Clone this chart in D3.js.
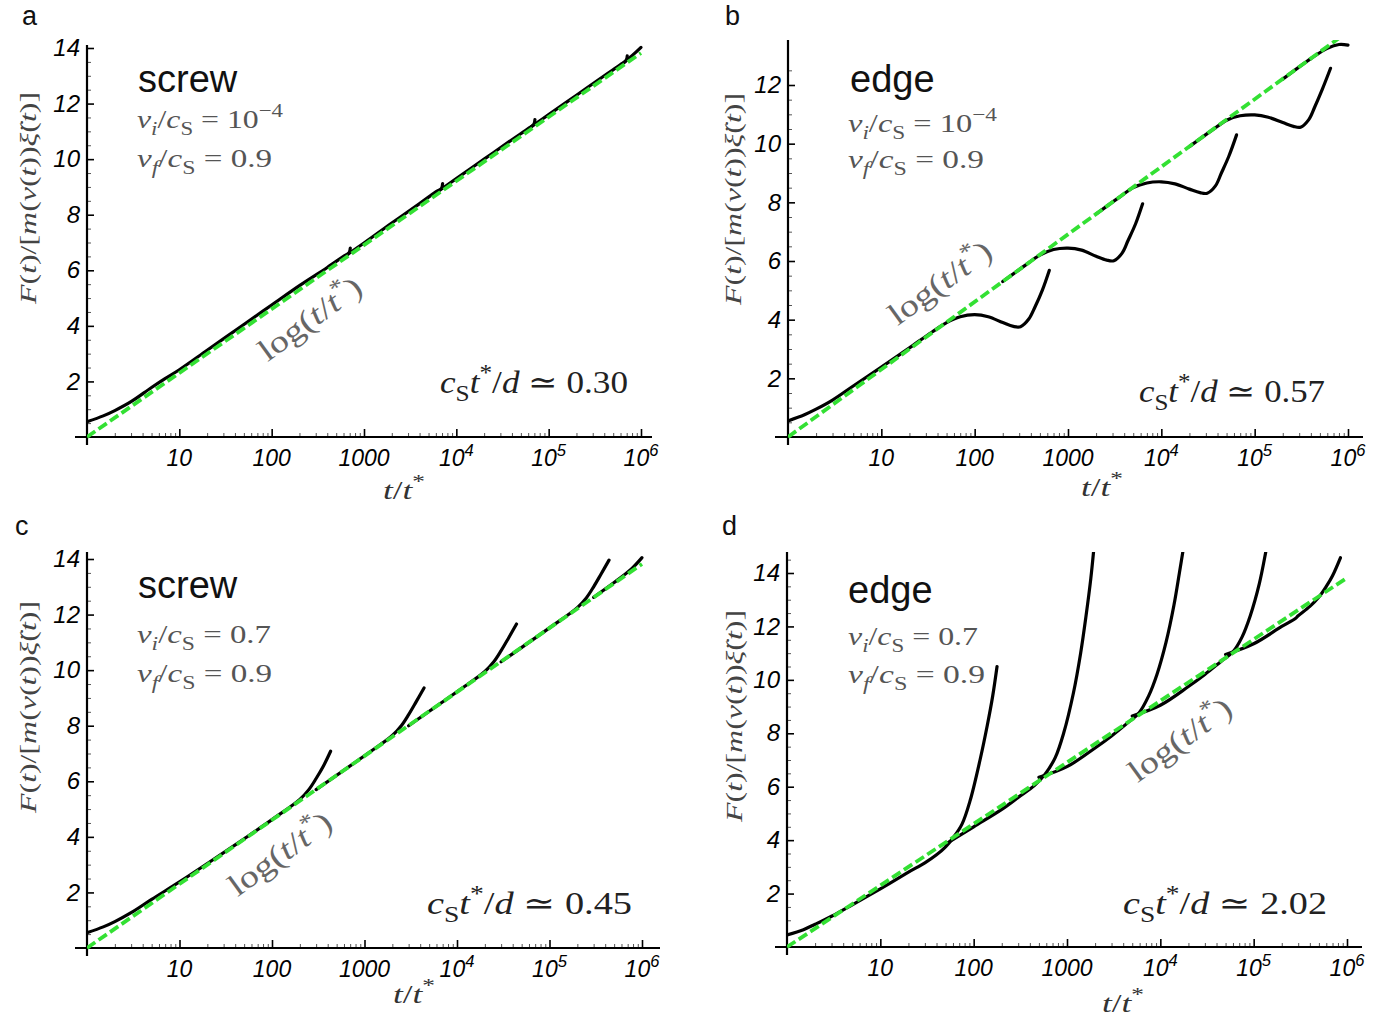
<!DOCTYPE html>
<html><head><meta charset="utf-8">
<script src="https://cdn.jsdelivr.net/npm/d3@7"></script>
<style>body{margin:0;background:#fff}</style>
</head><body>
<svg id="chart" width="1395" height="1020"></svg>
<script>
// ---------------- DATA ----------------
const xTickValues = [10, 100, 1000, 1e4, 1e5, 1e6];
const xTickBase = ["10", "100", "1000", "10", "10", "10"];
const xTickExp = ["", "", "", "4", "5", "6"];
const yTicksA = [2, 4, 6, 8, 10, 12, 14];
const yTicksB = [2, 4, 6, 8, 10, 12];
const yTicksC = [2, 4, 6, 8, 10, 12, 14];
const yTicksD = [2, 4, 6, 8, 10, 12, 14];

const panelLetters = ["a", "b", "c", "d"];
const dislocationType = ["screw", "edge", "screw", "edge"];
const viValues = ["10", "10", "0.7", "0.7"];
const viExponent = ["−4", "−4", "", ""];
const vfValues = ["0.9", "0.9", "0.9", "0.9"];
const ratioValues = ["0.30", "0.57", "0.45", "2.02"];

// reference line log(t/t*)
const refLine = [[1, 0], [1e6, 13.82]];

// panel a: screw, vi=1e-4
const curvesA = [
  [[1,0.55],[1.5,0.76],[2,0.95],[3,1.27],[5,1.78],[7,2.1],[10,2.42],[20,3.12],[50,4.05],[100,4.75],[200,5.45],[400,6.1],[600,6.5],[690,6.63],[710,6.8]],
  [[650,6.55],[1000,6.98],[2000,7.7],[4000,8.4],[6000,8.82],[6900,8.95],[7100,9.12]],
  [[6500,8.86],[1e4,9.3],[2e4,10.0],[4e4,10.7],[6e4,11.1],[6.9e4,11.25],[7.1e4,11.42]],
  [[6.5e4,11.17],[1e5,11.6],[2e5,12.3],[4e5,13.0],[6e5,13.4],[6.9e5,13.55],[7.1e5,13.72]],
  [[6.5e5,13.47],[8e5,13.72],[1e6,14.02]]
];

// panel b: edge, vi=1e-4
const curvesB = [
  [[1,0.55],[1.5,0.76],[2,0.95],[3,1.26],[5,1.74],[10,2.38],[20,3.04],[35,3.58],[50,3.9],[70,4.1],[100,4.17],[140,4.1],[200,3.9],[260,3.77],[310,3.76],[380,4.02],[444,4.44],[530,5.0],[630,5.68]],
  [[200,5.3],[350,5.86],[500,6.2],[700,6.39],[1000,6.44],[1400,6.37],[2000,6.16],[2600,6.03],[3100,6.01],[3800,6.27],[4400,6.7],[5300,7.27],[6300,7.95]],
  [[2000,7.6],[3500,8.16],[5000,8.5],[7000,8.66],[1e4,8.7],[1.4e4,8.63],[2e4,8.45],[2.6e4,8.33],[3.1e4,8.31],[3.8e4,8.56],[4.4e4,9.0],[5.3e4,9.58],[6.4e4,10.3]],
  [[2e4,9.9],[3.5e4,10.46],[5e4,10.8],[7e4,10.95],[1e5,10.98],[1.4e5,10.9],[2e5,10.72],[2.6e5,10.59],[3.1e5,10.56],[3.8e5,10.82],[4.4e5,11.25],[5.3e5,11.85],[6.5e5,12.57]],
  [[2e5,12.2],[4e5,12.9],[6e5,13.25],[8e5,13.38],[1e6,13.36]]
];

// panel c: screw, vi=0.7
const curvesC = [
  [[1,0.55],[1.5,0.76],[2,0.95],[3,1.27],[5,1.75],[10,2.38],[20,3.04],[50,3.93],[100,4.62],[200,5.35],[250,5.7],[300,6.1],[360,6.55],[430,7.08]],
  [[300,5.7],[1000,6.92],[2000,7.65],[2500,8.0],[3000,8.4],[3600,8.85],[4400,9.36]],
  [[3000,8.0],[1e4,9.22],[2e4,9.95],[2.5e4,10.3],[3e4,10.7],[3.6e4,11.15],[4.4e4,11.66]],
  [[3e4,10.3],[1e5,11.52],[2e5,12.25],[2.5e5,12.6],[3e5,13.0],[3.6e5,13.45],[4.4e5,13.96]],
  [[3e5,12.62],[6e5,13.35],[8e5,13.7],[1e6,14.05]]
];

// panel d: edge, vi=0.7
const curvesD = [
  [[1,0.45],[1.5,0.65],[2,0.85],[3,1.15],[5,1.58],[10,2.18],[20,2.8],[30,3.15],[40,3.45],[50,3.75],[60,4.08],[75,4.6],[92,5.5],[117,7.0],[140,8.3],[160,9.4],[178,10.5]],
  [[50,3.85],[100,4.5],[200,5.15],[300,5.6],[450,6.05],[585,6.48],[750,7.1],[920,8.0],[1170,9.5],[1400,11.0],[1600,12.4],[1800,13.8],[1950,15.0]],
  [[500,6.35],[1000,6.75],[2000,7.45],[3000,7.9],[4500,8.4],[5900,8.76],[7500,9.4],[9200,10.2],[1.15e4,11.4],[1.4e4,12.8],[1.6e4,14.0],[1.8e4,15.1]],
  [[5000,8.65],[1e4,9.05],[2e4,9.75],[3e4,10.2],[4.5e4,10.7],[6e4,11.05],[7.5e4,11.6],[9.2e4,12.4],[1.15e5,13.6],[1.35e5,14.8],[1.45e5,15.4]],
  [[5e4,10.95],[1e5,11.35],[2e5,12.0],[2.8e5,12.3],[3e5,12.4],[4e5,12.75],[5e5,13.1],[6e5,13.5],[7e5,13.9],[8.5e5,14.57]]
];

// ---------------- LAYOUT ----------------
const layouts = [
  {xr:[87,641], yd:14, yr:[437,48], axX:[75,652], axY:[445,45], yTicks:yTicksA, curves:curvesA,
   letter:[22,25], type:[138,92], vi:[137,128,146], vf:[137,167,135], ratio:[440,393,188],
   logc:[316,317], xlab:[404,499], ylab:[36,198]},
  {xr:[788,1348], yd:12, yr:[437,85], axX:[775,1363], axY:[445,40], yTicks:yTicksB, curves:curvesB,
   letter:[725,25], type:[850,92], vi:[848,132,149], vf:[848,168,136], ratio:[1139,402,186],
   logc:[946,281], xlab:[1102,496], ylab:[741,199]},
  {xr:[87,642], yd:14, yr:[948,559], axX:[75,660], axY:[956,552], yTicks:yTicksC, curves:curvesC,
   letter:[15,535], type:[138,598], vi:[137,643,134], vf:[137,682,135], ratio:[427,914,205],
   logc:[286,852], xlab:[414,1003], ylab:[36,707]},
  {xr:[787,1347], yd:14, yr:[947,573], axX:[775,1362], axY:[955,552], yTicks:yTicksD, curves:curvesD,
   letter:[722,535], type:[848,603], vi:[848,645,130], vf:[848,683,137], ratio:[1123,914,204],
   logc:[1186,738], xlab:[1123,1012], ylab:[742,716]}
];

const SERIF = "'Liberation Serif','DejaVu Serif',serif";
const SANS = "'Liberation Sans',Arial,sans-serif";
const svg = d3.select("#chart");

function mtext(parent, x, y, parts, opt) {
  const t = parent.append("text").attr("x", x).attr("y", y)
    .attr("font-family", opt.family || SERIF).attr("font-size", opt.size)
    .attr("fill", opt.color || "#000");
  if (opt.anchor) t.attr("text-anchor", opt.anchor);
  if (opt.transform) t.attr("transform", opt.transform);
  let cur = 0;
  parts.forEach(p => {
    const s = typeof p === "string" ? {t: p} : p;
    if (!s.t) return;
    const ts = t.append("tspan").text(s.t);
    let target = 0, fs = opt.size;
    if (s.sub) { target = opt.size * 0.25; fs = opt.size * 0.72; }
    if (s.sup) { target = -opt.size * 0.42; fs = opt.size * 0.72; }
    if (target !== cur) ts.attr("dy", target - cur);
    cur = target;
    ts.attr("font-size", fs);
    if (s.it) ts.attr("font-style", "italic");
  });
  if (opt.len) t.attr("textLength", opt.len).attr("lengthAdjust", "spacingAndGlyphs");
  return t;
}

layouts.forEach((L, i) => {
  const g = svg.append("g");
  const x = d3.scaleLog().domain([1, 1e6]).range(L.xr);
  const y = d3.scaleLinear().domain([0, L.yd]).range(L.yr);

  // minor ticks
  const minorX = [];
  for (let d = 0; d < 6; d++) for (let m = 2; m <= 9; m++) minorX.push(m * Math.pow(10, d));
  g.append("g").attr("transform", `translate(0,${L.yr[0]})`)
    .call(d3.axisBottom(x).tickValues(minorX).tickSize(-4).tickFormat(""))
    .call(a => a.select(".domain").remove())
    .selectAll("line").attr("stroke", "#555").attr("stroke-width", 1);
  const minorY = d3.range(0.5, L.yd + 0.75, 0.5).filter(v => v % 2 !== 0 && y(v) >= L.axY[1]);
  g.append("g").attr("transform", `translate(${L.xr[0]},0)`)
    .call(d3.axisLeft(y).tickValues(minorY).tickSize(-4).tickFormat(""))
    .call(a => a.select(".domain").remove())
    .selectAll("line").attr("stroke", "#555").attr("stroke-width", 1);

  // major x ticks
  const xa = g.append("g").attr("transform", `translate(0,${L.yr[0]})`)
    .call(d3.axisBottom(x).tickValues(xTickValues).tickSize(-8).tickFormat(""));
  xa.select(".domain").remove();
  xa.selectAll("line").attr("stroke", "#000").attr("stroke-width", 1.6);
  xTickValues.forEach((v, k) => {
    mtext(g, x(v), L.yr[0] + 29, [xTickBase[k], {t: xTickExp[k], sup: true}],
      {family: SANS, size: 23, anchor: "middle", color: "#000"})
      .attr("font-style", "italic");
  });

  // major y ticks
  const ya = g.append("g").attr("transform", `translate(${L.xr[0]},0)`)
    .call(d3.axisLeft(y).tickValues(L.yTicks).tickSize(-7).tickPadding(7));
  ya.select(".domain").remove();
  ya.selectAll("line").attr("stroke", "#000").attr("stroke-width", 1.6);
  ya.selectAll("text").attr("font-family", SANS).attr("font-size", 24)
    .attr("font-style", "italic").attr("fill", "#000");

  // axis lines
  g.append("line").attr("x1", L.axX[0]).attr("x2", L.axX[1]).attr("y1", L.yr[0]).attr("y2", L.yr[0])
    .attr("stroke", "#000").attr("stroke-width", 2.2);
  g.append("line").attr("x1", L.xr[0]).attr("x2", L.xr[0]).attr("y1", L.axY[0]).attr("y2", L.axY[1])
    .attr("stroke", "#000").attr("stroke-width", 2.2);

  // clip
  const cid = "clip" + i;
  svg.append("clipPath").attr("id", cid).append("rect")
    .attr("x", L.xr[0]).attr("y", L.axY[1]).attr("width", L.axX[1] - L.xr[0] + 5).attr("height", L.yr[0] - L.axY[1] + 2);
  const plot = g.append("g").attr("clip-path", `url(#${cid})`);

  const line = d3.line().x(d => x(d[0])).y(d => y(d[1])).curve(d3.curveCatmullRom.alpha(0.5));
  L.curves.forEach(c => {
    plot.append("path").attr("d", line(c)).attr("fill", "none")
      .attr("stroke", "#000").attr("stroke-width", 3.2).attr("stroke-linecap", "round");
  });
  plot.append("path").attr("d", d3.line().x(d => x(d[0])).y(d => y(d[1]))(refLine))
    .attr("fill", "none").attr("stroke", "#33e033").attr("stroke-width", 3.8)
    .attr("stroke-dasharray", "10,4");

  // texts
  g.append("text").attr("x", L.letter[0]).attr("y", L.letter[1]).text(panelLetters[i])
    .attr("font-family", SANS).attr("font-size", 27).attr("fill", "#111");
  g.append("text").attr("x", L.type[0]).attr("y", L.type[1]).text(dislocationType[i])
    .attr("font-family", SANS).attr("font-size", 38).attr("fill", "#111");
  mtext(g, L.vi[0], L.vi[1], [{t: "v", it: true}, {t: "i", it: true, sub: true}, "/", {t: "c", it: true}, {t: "S", sub: true},
    " = " + viValues[i], {t: viExponent[i], sup: true}], {size: 26, color: "#555", len: L.vi[2]});
  mtext(g, L.vf[0], L.vf[1], [{t: "v", it: true}, {t: "f", it: true, sub: true}, "/", {t: "c", it: true}, {t: "S", sub: true},
    " = " + vfValues[i]], {size: 26, color: "#555", len: L.vf[2]});
  mtext(g, L.ratio[0], L.ratio[1], [{t: "c", it: true}, {t: "S", sub: true}, {t: "t", it: true}, {t: "*", sup: true}, "/",
    {t: "d", it: true}, " ≃ " + ratioValues[i]], {size: 31, color: "#222", len: L.ratio[2]});
  mtext(g, 0, 0, ["log(", {t: "t", it: true}, "/", {t: "t", it: true}, {t: "*", sup: true}, ")"],
    {size: 31, color: "#666", anchor: "middle", transform: `translate(${L.logc[0]},${L.logc[1] + 10}) rotate(-36)`, len: 120});
  mtext(g, L.xlab[0], L.xlab[1], [{t: "t", it: true}, "/", {t: "t", it: true}, {t: "*", sup: true}],
    {size: 26, color: "#333", anchor: "middle", len: 42});
  mtext(g, 0, 0, [{t: "F", it: true}, "(", {t: "t", it: true}, ")/[", {t: "m", it: true}, "(", {t: "v", it: true}, "(",
    {t: "t", it: true}, "))", {t: "ξ̈", it: true}, "(", {t: "t", it: true}, ")]"],
    {size: 24, color: "#444", anchor: "middle", transform: `translate(${L.ylab[0]},${L.ylab[1]}) rotate(-90)`, len: 212});
});
</script>
</body></html>
